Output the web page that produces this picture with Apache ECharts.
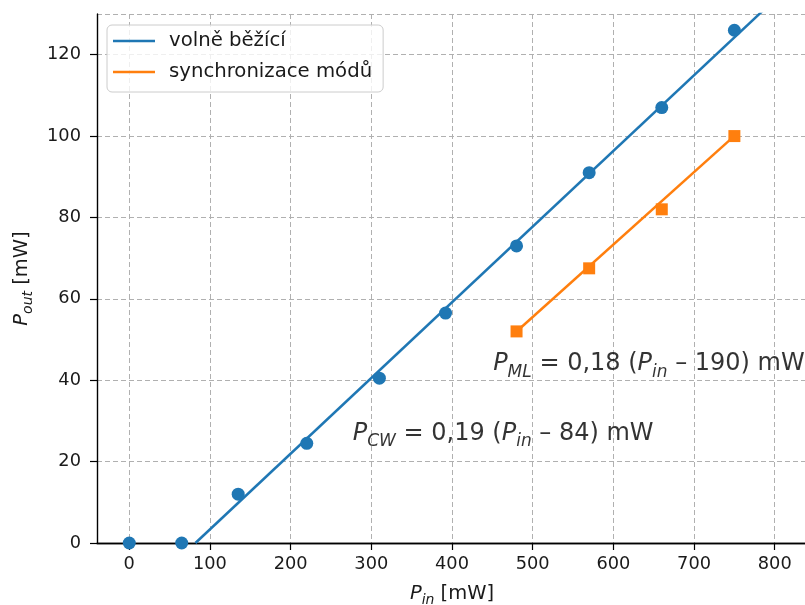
<!DOCTYPE html>
<html>
<head>
<meta charset="utf-8">
<script src="https://cdn.jsdelivr.net/npm/echarts@6/dist/echarts.min.js"></script>
<style>
  html, body { margin: 0; padding: 0; background: #fff; }
  #chart { width: 805px; height: 605px; }
</style>
</head>
<body>
<div id="chart"></div>
<script>
// Measured pump power P_in [mW] and output power P_out [mW]
const pinFree = [0, 65, 135, 220, 310, 392, 480, 570, 660, 750];
const poutFree = [0, 0, 12, 24.5, 40.5, 56.5, 73, 91, 107, 126];
const pinLocked = [480, 570, 660, 750];
const poutLocked = [52, 67.5, 82, 100];

// Linear fits: P_out = slope * (P_in - threshold)
const cwSlope = 0.186, cwThreshold = 82, cwRange = [82, 840];
const mlSlope = 0.178, mlThreshold = 188, mlRange = [480, 750];

const xTicks = [0, 100, 200, 300, 400, 500, 600, 700, 800];
const yTicks = [0, 20, 40, 60, 80, 100, 120];

const BLUE = '#1f77b4', ORANGE = '#ff7f0e';
const FONT = 'DejaVu Sans';
const INK = '#1a1a1a';

const pairs = (xs, ys) => xs.map((x, i) => [x, ys[i]]);
const fitLine = (slope, thr, range) => range.map(x => [x, slope * (x - thr)]);

// rich-text styles for "P" with an italic subscript
const richBase = (size, color) => ({
  n: { fontFamily: FONT, fontSize: size, color, lineHeight: Math.round(size * 1.4) },
  it: { fontFamily: FONT, fontSize: size, fontStyle: 'italic', color, lineHeight: Math.round(size * 1.4) },
  sub: { fontFamily: FONT, fontSize: Math.round(size * 0.7), fontStyle: 'italic', color,
         lineHeight: Math.round(size * 0.88), verticalAlign: 'bottom' }
});

const chart = echarts.init(document.getElementById('chart'), null, { renderer: 'canvas' });

const gridLine = { show: true, lineStyle: { color: '#b0b0b0', type: [5, 3], width: 1 } };
const spine = { color: '#000', width: 1.4 };

chart.setOption({
  animation: false,
  backgroundColor: '#fff',
  grid: { left: 97, right: -2, top: 14, bottom: 62, containLabel: false, outerBoundsMode: 'none' },
  legend: {
    left: 107, top: 25,
    orient: 'vertical',
    data: [
      { name: 'volně běžící', icon: 'rect' },
      { name: 'synchronizace módů', icon: 'rect' }
    ],
    itemWidth: 42, itemHeight: 2.5, itemGap: 9,
    padding: [5, 11, 9, 6],
    backgroundColor: 'rgba(255,255,255,0.8)',
    borderColor: '#cccccc', borderWidth: 1, borderRadius: 5,
    textStyle: { fontFamily: FONT, fontSize: 19.7, color: INK, lineHeight: 22, padding: [0, 0, 0, 9] }
  },
  xAxis: [{
    type: 'value', min: -40, max: 840,
    minInterval: 100, maxInterval: 100,
    name: '{it|P}{sub|in}{n| [mW]}',
    nameLocation: 'middle', nameGap: 37,
    nameTextStyle: { rich: richBase(19.5, INK) },
    axisLine: { show: true, onZero: false, lineStyle: spine },
    axisTick: { show: true, length: 7, lineStyle: { color: '#000', width: 1.2 } },
    axisLabel: { fontFamily: FONT, fontSize: 17.8, color: INK, margin: 12,
                 showMinLabel: false, showMaxLabel: false,
                 formatter: v => xTicks.includes(v) ? String(v) : '' },
    splitLine: gridLine
  }, {
    type: 'value', position: 'top', min: -40, max: 840,
    axisLine: { show: true, lineStyle: spine },
    axisTick: { show: false }, axisLabel: { show: false }, splitLine: { show: false }
  }],
  yAxis: {
    type: 'value', min: 0, max: 130,
    minInterval: 20, maxInterval: 20,
    name: '{it|P}{sub|out}{n| [mW]}',
    nameLocation: 'middle', nameGap: 62, nameRotate: 90,
    nameTextStyle: { rich: richBase(19.5, INK) },
    axisLine: { show: true, onZero: false, lineStyle: spine },
    axisTick: { show: true, length: 7, lineStyle: { color: '#000', width: 1.2 } },
    axisLabel: { fontFamily: FONT, fontSize: 17.8, color: INK, margin: 16,
                 showMaxLabel: false,
                 formatter: v => yTicks.includes(v) ? String(v) : '' },
    splitLine: gridLine
  },
  series: [
    {
      name: 'volně běžící', type: 'line', data: fitLine(cwSlope, cwThreshold, cwRange),
      showSymbol: false, clip: true, color: BLUE,
      lineStyle: { color: BLUE, width: 2.5 }, z: 2
    },
    {
      name: 'synchronizace módů', type: 'line', data: fitLine(mlSlope, mlThreshold, mlRange),
      showSymbol: false, clip: true, color: ORANGE,
      lineStyle: { color: ORANGE, width: 2.5 }, z: 2
    },
    {
      type: 'scatter', data: pairs(pinFree, poutFree), symbol: 'circle', symbolSize: 13,
      itemStyle: { color: BLUE, opacity: 1 }, clip: true, z: 3
    },
    {
      type: 'scatter', data: pairs(pinLocked, poutLocked), symbol: 'rect', symbolSize: 12,
      itemStyle: { color: ORANGE, opacity: 1 }, clip: true, z: 3
    },
    {
      // fit equations anchored at their left baseline in data coordinates
      type: 'scatter', symbolSize: 0, silent: true, z: 4, clip: false,
      data: [
        { value: [451, 42], label: { formatter: '{it|P}{sub|ML}{n| = 0,18 (}{it|P}{sub|in}{n| – 190) mW}' } },
        { value: [277, 24.9], label: { formatter: '{it|P}{sub|CW}{n| = 0,19 (}{it|P}{sub|in}{n| – 84) mW}' } }
      ],
      label: {
        show: true, position: 'inside', align: 'left', verticalAlign: 'middle',
        offset: [0, -8.4], color: '#000',
        rich: richBase(24, '#000')
      }
    }
  ]
});
</script>
</body>
</html>
